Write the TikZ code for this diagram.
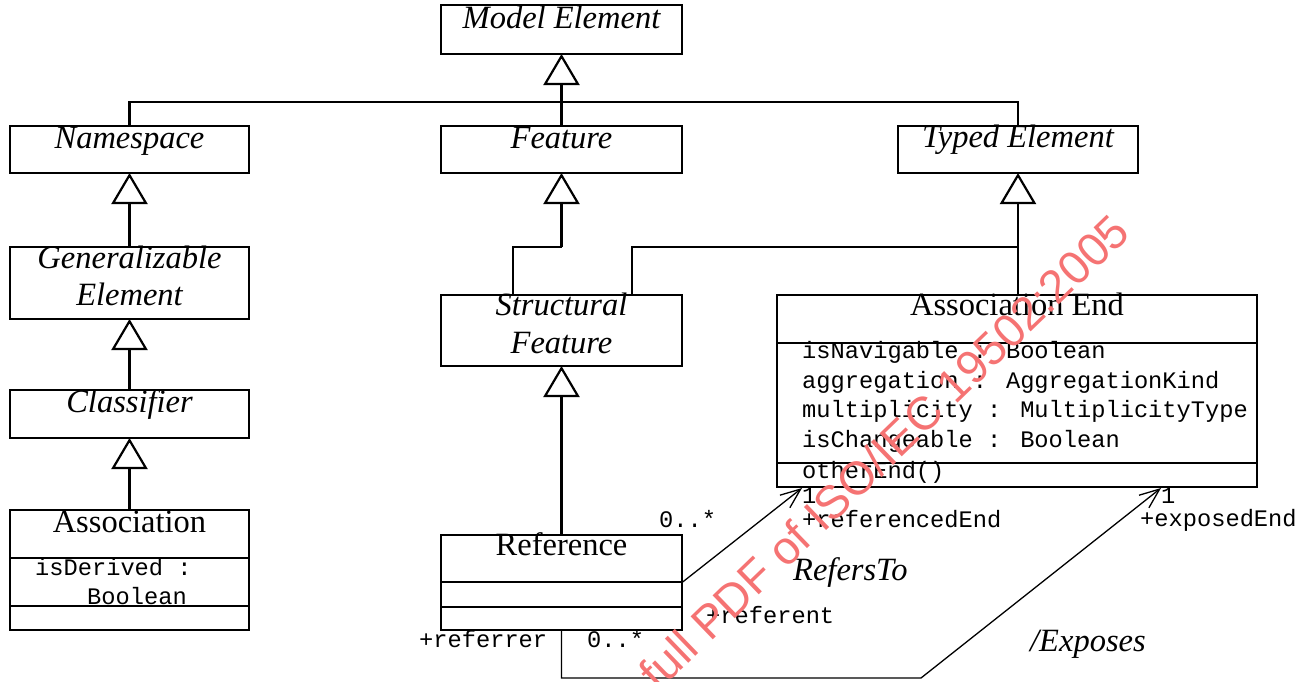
\documentclass[tikz,border=0pt]{standalone}
\usepackage{fontspec}
\setmainfont{Liberation Serif}
\newfontfamily\monof{Liberation Mono}
\newfontfamily\wmf{Liberation Sans}
\usetikzlibrary{arrows.meta}
\definecolor{wmcol}{RGB}{245,115,115}
\begin{document}
\begin{tikzpicture}[x=1pt,y=-1pt,
  box/.style={draw, line width=2.2pt, inner sep=0pt, outer sep=0pt},
  cname/.style={font=\fontsize{32.5}{37}\selectfont\itshape, inner sep=0pt, anchor=base},
  uname/.style={font=\fontsize{32.5}{37}\selectfont, inner sep=0pt, anchor=base},
  attr/.style={font=\monof\fontsize{23.7}{29}\selectfont, inner sep=0pt, anchor=base west},
  divider/.style={line width=2.2pt},
  gen/.style={line width=2.2pt, -{Triangle[open,length=31pt,width=36pt]}},
  genl/.style={line width=2.2pt},
  assoc/.style={line width=1.3pt, -{Straight Barb[length=20pt,width=16pt]}},
]
\useasboundingbox (0,0) rectangle (1314,681);

% class boxes
\node[box, minimum width=241pt, minimum height=49pt] (me) at (561.5,29.5) {};
\node[box, minimum width=239pt, minimum height=47pt] (ns) at (129.5,149.5) {};
\node[box, minimum width=241pt, minimum height=47pt] (feat) at (561.5,149.5) {};
\node[box, minimum width=240pt, minimum height=47pt] (te) at (1018,149.5) {};
\node[box, minimum width=239pt, minimum height=72pt] (ge) at (129.5,283) {};
\node[box, minimum width=239pt, minimum height=48pt] (cl) at (129.5,414) {};
\node[box, minimum width=239pt, minimum height=120pt] (as) at (129.5,570) {};
\node[box, minimum width=241pt, minimum height=71pt] (sf) at (561.5,330.5) {};
\node[box, minimum width=241pt, minimum height=95pt] (ref) at (561.5,582.5) {};
\node[box, minimum width=480pt, minimum height=192pt] (ae) at (1017,391) {};

% compartments
\draw[divider] ([yshift=-48pt]as.north west) -- ([yshift=-48pt]as.north east);
\draw[divider] ([yshift=-96pt]as.north west) -- ([yshift=-96pt]as.north east);
\draw[divider] ([yshift=-47pt]ref.north west) -- ([yshift=-47pt]ref.north east);
\draw[divider] ([yshift=-72pt]ref.north west) -- ([yshift=-72pt]ref.north east);
\draw[divider] ([yshift=-48pt]ae.north west) -- ([yshift=-48pt]ae.north east);
\draw[divider] ([yshift=-168pt]ae.north west) -- ([yshift=-168pt]ae.north east);

% class names
\node[cname] (me-t) at (561.5,28) {Model Element};
\node[cname] (ns-t) at (129.5,148) {Namespace};
\node[cname] (feat-t) at (561.5,148) {Feature};
\node[cname] (te-t) at (1018,147) {Typed Element};
\node[cname] (ge-t1) at (129.5,268) {Generalizable};
\node[cname] (ge-t2) at (129.5,305) {Element};
\node[cname] (cl-t) at (129.5,412) {Classifier};
\node[uname] (as-t) at (129.5,532) {Association};
\node[cname] (sf-t1) at (561.5,315) {Structural};
\node[cname] (sf-t2) at (561.5,353) {Feature};
\node[uname] (ref-t) at (561.5,555) {Reference};
\node[uname] (ae-t) at (1017,315) {Association End};

% attributes and operations
\node[attr] (as-a1) at (35,575) {isDerived :};
\node[attr] (as-a2) at (87,604) {Boolean};
\node[attr] (ae-a1) at (802,358) {isNavigable : Boolean};
\node[attr] (ae-a2) at (802,388) {aggregation : AggregationKind};
\node[attr] (ae-a3) at (802,417) {multiplicity : MultiplicityType};
\node[attr] (ae-a4) at (802,447) {isChangeable : Boolean};
\node[attr] (ae-o1) at (802,478) {otherEnd()};

% generalizations
\coordinate (j0) at (129.5,102);
\coordinate (j1) at (561.5,247);
\coordinate (j2) at (1018,247);
\coordinate (sfL) at (513,295);
\coordinate (sfR) at (632,295);
\draw[gen] (feat.north) -- (me.south);
\draw[genl] (ns.north) -- (j0) -| (te.north);
\draw[gen] (ge.north) -- (ns.south);
\draw[gen] (cl.north) -- (ge.south);
\draw[gen] (as.north) -- (cl.south);
\draw[genl] (sfL) |- (j1);
\draw[gen] (j1) -- (feat.south);
\draw[genl] (sfR) |- (j2);
\draw[gen] (te.south |- ae.north) -- (te.south);
\draw[gen] (ref.north) -- (sf.south);

% associations
\coordinate (rt) at (802,488);
\coordinate (ex1) at (561.5,678);
\coordinate (ex2) at (921,678);
\coordinate (et) at (1161,488);
\draw[assoc] (ref.east) -- (rt);
\draw[assoc] (ref.south) -- (ex1) -- (ex2) -- (et);

% association labels
\node[attr] (l-m1) at (659,527) {0..*};
\node[attr] (l-m2) at (802,503) {1};
\node[attr] (l-re) at (802,527) {+referencedEnd};
\node[cname, anchor=base west] (l-rt) at (793,580) {RefersTo};
\node[attr] (l-rf) at (706,623) {+referent};
\node[attr] (l-rr) at (419,647) {+referrer};
\node[attr] (l-m3) at (587,647) {0..*};
\node[cname, anchor=base west] (l-ex) at (1030,651) {/Exposes};
\node[attr] (l-m4) at (1161,503) {1};
\node[attr] (l-ee) at (1140,526) {+exposedEnd};

% watermark
\node[font=\wmf\fontsize{46.5}{56}\selectfont, text=wmcol, rotate=44, anchor=base west, inner sep=0pt] (wm) at (658,693) {full PDF of ISO/IEC 19502:2005};
\end{tikzpicture}
\end{document}
